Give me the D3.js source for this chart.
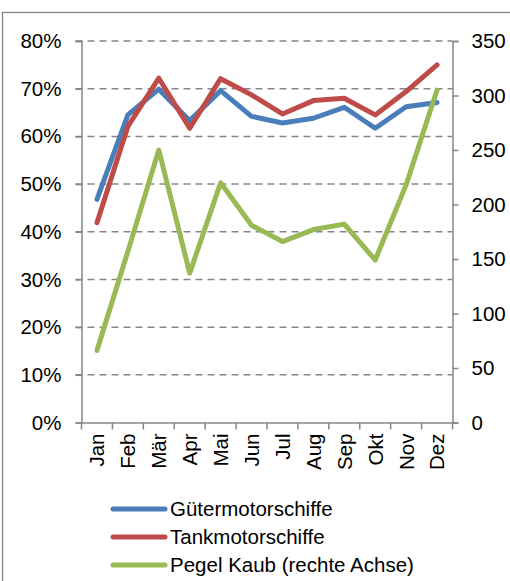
<!DOCTYPE html>
<html>
<head>
<meta charset="utf-8">
<script src="https://cdn.jsdelivr.net/npm/d3@7"></script>
<style>
  body { margin: 0; background: #fff; }
  text { font-family: "Liberation Sans", Arial, sans-serif; fill: #000; }
</style>
</head>
<body>
<div id="chart"></div>
<script>
// Daten
var months = ["Jan", "Feb", "Mär", "Apr", "Mai", "Jun", "Jul", "Aug", "Sep", "Okt", "Nov", "Dez"];
var gueter = [46.8, 64.5, 69.9, 63.3, 69.6, 64.2, 62.8, 63.8, 66.1, 61.7, 66.2, 67.1];
var tank = [41.9, 62.1, 72.2, 61.7, 72.1, 68.7, 64.7, 67.5, 68.0, 64.5, 69.4, 75.0];
var pegel = [66, 157, 250, 137, 220, 181, 166, 177, 182, 149, 218, 305];
var leftTicks = [0, 10, 20, 30, 40, 50, 60, 70, 80];
var rightTicks = [0, 50, 100, 150, 200, 250, 300, 350];

var series = [
    { name: "Gütermotorschiffe", values: gueter, axis: "left", color: "#4a7ebb" },
    { name: "Tankmotorschiffe", values: tank, axis: "left", color: "#be4b48" },
    { name: "Pegel Kaub (rechte Achse)", values: pegel, axis: "right", color: "#98b954" }
];

var width = 510, height = 581;
var plotL = 81.5, plotR = 452.5, plotT = 41, plotB = 422.5;
var gray = "#868686";
var fontSize = "20.5px";

var svg = d3.select("#chart").append("svg")
    .attr("width", width)
    .attr("height", height);

// Rahmen
svg.append("rect")
    .attr("x", 2.5).attr("y", 12.5)
    .attr("width", 530).attr("height", 620)
    .attr("fill", "none")
    .attr("stroke", gray)
    .attr("stroke-width", 1.3);

// Skalen
var x = d3.scaleBand().domain(months).range([plotL, plotR]);
var yL = d3.scaleLinear().domain([0, 80]).range([plotB, plotT]);
var yR = d3.scaleLinear().domain([0, 350]).range([plotB, plotT]);

// Gitterlinien
svg.append("g").selectAll("line")
    .data(leftTicks.filter(d => d > 0))
    .enter().append("line")
    .attr("x1", plotL - 6).attr("x2", plotR)
    .attr("y1", d => yL(d)).attr("y2", d => yL(d))
    .attr("stroke", gray)
    .attr("stroke-width", 1.5)
    .attr("stroke-dasharray", "7,5");

// linke Achse
var axL = svg.append("g")
    .attr("transform", "translate(" + plotL + ",0)")
    .call(d3.axisLeft(yL).tickValues(leftTicks).tickFormat(d => d + "%").tickSize(6).tickPadding(14));

// rechte Achse
var axR = svg.append("g")
    .attr("transform", "translate(" + plotR + ",0)")
    .call(d3.axisRight(yR).tickValues(rightTicks).tickSize(6).tickPadding(13));

// x-Achse
var axX = svg.append("g")
    .attr("transform", "translate(0," + plotB + ")")
    .call(d3.axisBottom(x).tickSize(0));

// Tick-Striche zwischen den Kategorien
axX.selectAll(".sep")
    .data(d3.range(months.length + 1))
    .enter().append("line")
    .attr("class", "sep")
    .attr("x1", i => plotL + i * x.step())
    .attr("x2", i => plotL + i * x.step())
    .attr("y1", 0).attr("y2", 7)
    .attr("stroke", gray)
    .attr("stroke-width", 1.5);

axX.selectAll(".tick text")
    .attr("transform", "rotate(-90)")
    .attr("text-anchor", "end")
    .attr("x", -11)
    .attr("y", 0)
    .attr("dy", "0.36em");

[axL, axR, axX].forEach(function(a) {
    a.select(".domain").attr("stroke", gray).attr("stroke-width", 1.5);
    a.selectAll(".tick line").attr("stroke", gray).attr("stroke-width", 1.5);
    a.selectAll("text").style("font-size", fontSize).style("font-family", "Liberation Sans, Arial, sans-serif").attr("fill", "#000");
});

// Linien
series.forEach(function(s) {
    var yy = s.axis === "left" ? yL : yR;
    var line = d3.line()
        .x((d, i) => x(months[i]) + x.bandwidth() / 2)
        .y(d => yy(d));
    svg.append("path")
        .datum(s.values)
        .attr("d", line)
        .attr("fill", "none")
        .attr("stroke", s.color)
        .attr("stroke-width", 5)
        .attr("stroke-linejoin", "round")
        .attr("stroke-linecap", "round");
});

// Legende
var legend = svg.append("g").attr("transform", "translate(111,509)");
var rows = legend.selectAll("g")
    .data(series)
    .enter().append("g")
    .attr("transform", (d, i) => "translate(0," + i * 28 + ")");
rows.append("line")
    .attr("x1", 2).attr("x2", 54)
    .attr("stroke", d => d.color)
    .attr("stroke-width", 5)
    .attr("stroke-linecap", "round");
rows.append("text")
    .attr("x", 59)
    .attr("dy", "0.36em")
    .style("font-size", fontSize)
    .text(d => d.name);
</script>
</body>
</html>
